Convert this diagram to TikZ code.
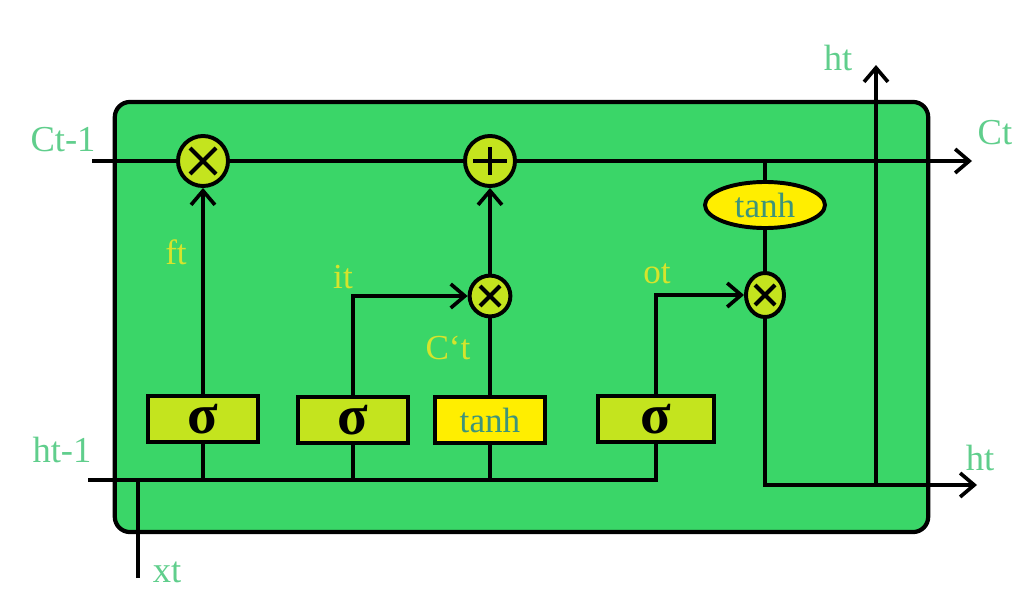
\documentclass[tikz,border=0pt]{standalone}
\usepackage{fontspec}
\setmainfont{Liberation Serif}
\usetikzlibrary{arrows.meta,positioning,shapes.geometric}
\definecolor{cellgreen}{RGB}{58,214,104}
\definecolor{gatelime}{RGB}{196,228,30}
\definecolor{tanhyellow}{RGB}{255,238,0}
\definecolor{lblgreen}{RGB}{96,206,140}
\definecolor{lblyellow}{RGB}{214,228,44}
\definecolor{tanhtext}{RGB}{62,148,122}
\tikzset{
  wire/.style={line width=2.8pt,black},
  arr/.style={wire,-{Straight Barb[length=10pt,width=17pt,line width=2.6pt]}},
  cell/.style={rectangle,draw,line width=3pt,rounded corners=0.38cm,fill=cellgreen,minimum width=20.33cm,minimum height=10.75cm},
  gate/.style={circle,draw,line width=2.8pt,fill=gatelime,minimum size=1.25cm,inner sep=0pt},
  sig/.style={rectangle,draw,line width=2.8pt,fill=gatelime,minimum width=2.75cm,minimum height=1.15cm,inner sep=0pt,font=\fontsize{40}{40}\selectfont\bfseries},
  tbox/.style={sig,fill=tanhyellow,text=tanhtext,font=\fontsize{25}{28}\selectfont\mdseries},
  tell/.style={ellipse,draw,line width=2.8pt,fill=tanhyellow,minimum width=3cm,minimum height=1.15cm,inner sep=0pt,text=tanhtext,font=\fontsize{25}{28}\selectfont},
  lbl/.style={text=lblgreen,font=\fontsize{26}{29}\selectfont},
  glbl/.style={text=lblyellow,font=\fontsize{25}{28}\selectfont},
}
\begin{document}
\begin{tikzpicture}[x=0.025cm,y=-0.025cm]
  \useasboundingbox (0,0) rectangle (1028,605);
  \node[cell] (cell) at (521.5,317) {};
  % gates on the cell line
  \node[gate] (fx) at (203,161) {};
  \node[gate] (ad) at (490,161) {};
  \node[gate,minimum size=1.02cm] (ix) at (490,296) {};
  \node[gate,ellipse,minimum width=0.95cm,minimum height=1.1cm] (ox) at (765,295) {};
  \node[tell] (th) at (765,205) {tanh};
  % layers
  \node[sig] (s1) at (203,419) {σ};
  \node[sig] (s2) at (353,420) {σ};
  \node[tbox] (tb) at (490,420) {tanh};
  \node[sig,minimum width=2.9cm] (s3) at (656,419) {σ};
  % free ends
  \coordinate (cin) at (92,161);
  \coordinate (cout) at (972,161);
  \coordinate (hin) at (88,480);
  \coordinate (hout) at (977,485);
  \coordinate (hup) at (876,65);
  \coordinate (xin) at (138,578);
  % symbols in the gates
  \foreach \g/\r in {fx/13,ix/10,ox/10} {
    \draw[wire] ([shift={(-\r,-\r)}]\g.center) -- ([shift={(\r,\r)}]\g.center);
    \draw[wire] ([shift={(-\r,\r)}]\g.center) -- ([shift={(\r,-\r)}]\g.center);
  }
  \draw[wire] ([yshift=-0.35cm]ad.center) -- ([yshift=0.35cm]ad.center);
  \draw[wire] ([xshift=-0.42cm]ad.center) -- ([xshift=0.42cm]ad.center);
  % cell state
  \draw[arr] (cin) -- (fx) -- (ad) -- (cout);
  \draw[wire] (th |- cout) -- (th);
  \draw[wire] (th) -- (ox);
  % inputs
  \draw[wire] (hin) -- (s3 |- hin) -- (s3.south);
  \foreach \b in {s1,s2,tb}
    \draw[wire] (\b.south) -- (\b |- hin);
  \draw[wire] (xin) -- (xin |- hin);
  % gate signals
  \draw[arr] (s1) -- (fx);
  \draw[arr] (s2) |- (ix);
  \draw[wire] (tb) -- (ix);
  \draw[arr] (ix) -- (ad);
  \draw[arr] (s3) |- (ox);
  % output
  \draw[arr] (ox) |- (hout);
  \draw[arr] (hup |- hout) -- (hup);
  % labels
  \node[glbl] (ft) at (176,252) {ft};
  \node[glbl] (it) at (343,277) {it};
  \node[glbl] (ct) at (448,348) {C`t};
  \node[glbl] (ot) at (657,274) {ot};
  \node[lbl] (cprev) at (63,140) {Ct-1};
  \node[lbl] (cnext) at (995,133) {Ct};
  \node[lbl] (htop) at (838,58) {ht};
  \node[lbl] (hright) at (980,458) {ht};
  \node[lbl] (hprev) at (62,450) {ht-1};
  \node[lbl] (xt) at (167,572) {xt};
\end{tikzpicture}
\end{document}
